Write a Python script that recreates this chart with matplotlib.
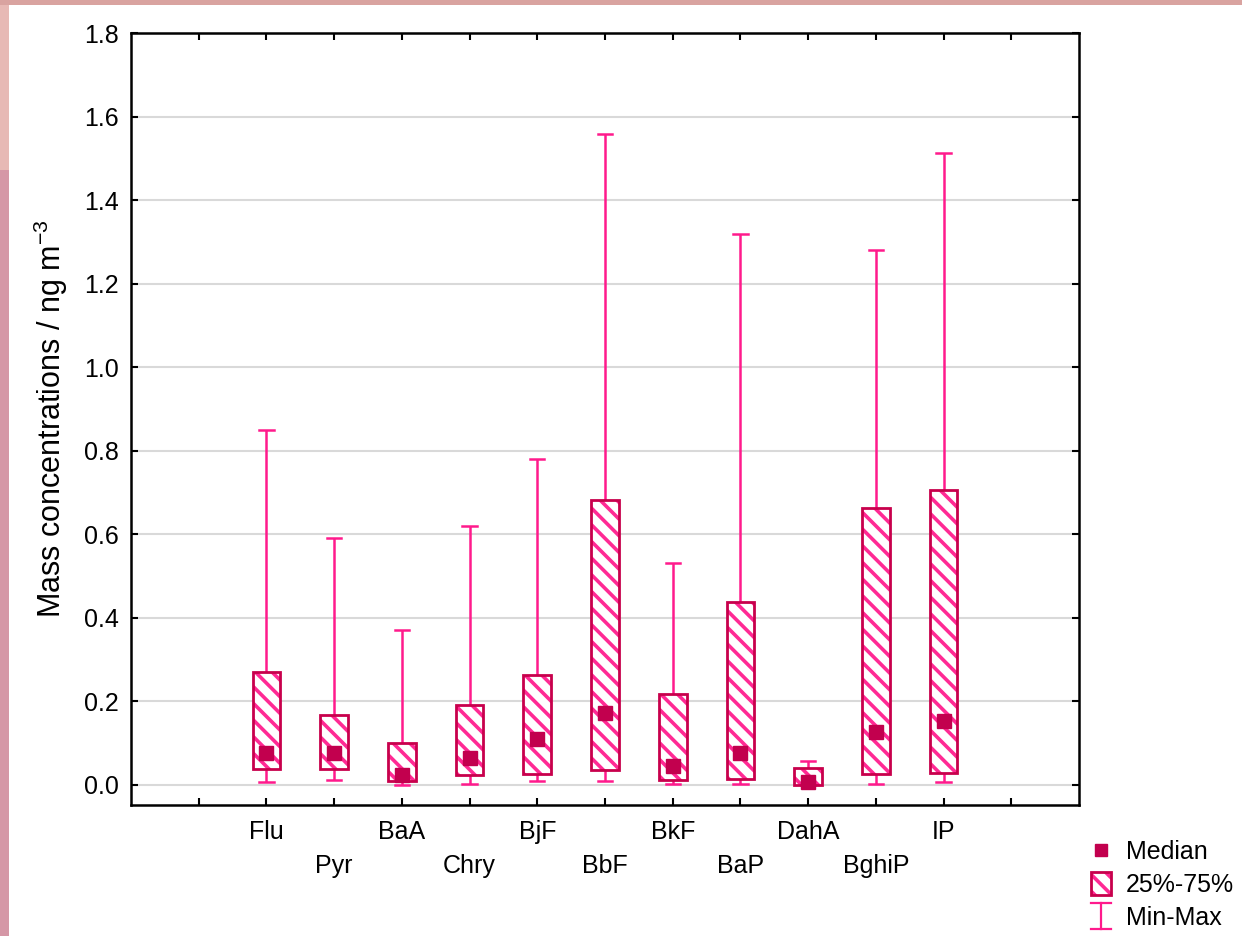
import matplotlib
matplotlib.use("Agg")
import matplotlib.pyplot as plt
from matplotlib.patches import Rectangle, Patch
from matplotlib.lines import Line2D
from matplotlib.legend_handler import HandlerBase

# ---------------- data ----------------
compounds = ["Flu", "Pyr", "BaA", "Chry", "BjF", "BbF", "BkF", "BaP", "DahA", "BghiP", "IP"]
mins    = [0.007, 0.012, 0.000, 0.003, 0.010, 0.010, 0.002, 0.002, 0.000, 0.002, 0.008]
q1      = [0.038, 0.038, 0.010, 0.024, 0.026, 0.036, 0.012, 0.014, 0.000, 0.026, 0.028]
medians = [0.077, 0.077, 0.024, 0.065, 0.110, 0.173, 0.046, 0.077, 0.007, 0.127, 0.153]
q3      = [0.271, 0.168, 0.100, 0.192, 0.263, 0.683, 0.218, 0.439, 0.041, 0.662, 0.707]
maxs    = [0.849, 0.590, 0.372, 0.620, 0.780, 1.558, 0.532, 1.320, 0.058, 1.280, 1.512]
yticks = [0.0, 0.2, 0.4, 0.6, 0.8, 1.0, 1.2, 1.4, 1.6, 1.8]

# ---------------- style ----------------
plt.rcParams['font.family'] = ['Liberation Sans', 'DejaVu Sans']
plt.rcParams['hatch.linewidth'] = 2.6
FS = 18
BOX_EDGE = "#C8004C"
HATCH = "#FF2A94"
WHISK = "#FF1A8C"
MED = "#C2004E"

fig = plt.figure(figsize=(12.42, 9.36), dpi=100)
fig.patch.set_facecolor("white")
# decorative pinkish border (left and top)
fig.patches.append(Rectangle((0, 0), 9/1242, 1, transform=fig.transFigure,
                             facecolor="#D597A6", edgecolor="none", zorder=0))
fig.patches.append(Rectangle((0, 1-170/936), 9/1242, 170/936, transform=fig.transFigure,
                             facecolor="#E7B9B5", edgecolor="none", zorder=0))
fig.patches.append(Rectangle((0, 1-5/936), 1, 5/936, transform=fig.transFigure,
                             facecolor="#D9A3A0", edgecolor="none", zorder=0))

ax = fig.add_axes([131/1242, 1-805/936, (1079-131)/1242, (805-33)/936])
ax.set_xlim(0, 14)
ax.set_ylim(-0.048, 1.8)

positions = list(range(2, 2 + len(compounds)))
box_w = 0.41
cap_w = 0.21

for i, x in enumerate(positions):
    ax.plot([x, x], [mins[i], maxs[i]], color=WHISK, lw=1.8, zorder=2, solid_capstyle='butt')
    ax.plot([x - cap_w/2, x + cap_w/2], [maxs[i], maxs[i]], color=WHISK, lw=1.8, zorder=2)
    ax.plot([x - cap_w/2, x + cap_w/2], [mins[i], mins[i]], color=WHISK, lw=1.8, zorder=2)
    ax.add_patch(Rectangle((x - box_w/2, q1[i]), box_w, q3[i] - q1[i],
                           facecolor="white", edgecolor="none", zorder=3))
    ax.add_patch(Rectangle((x - box_w/2, q1[i]), box_w, q3[i] - q1[i],
                           facecolor="none", edgecolor=HATCH, hatch="\\\\", lw=0, zorder=4))
    ax.add_patch(Rectangle((x - box_w/2, q1[i]), box_w, q3[i] - q1[i],
                           facecolor="none", edgecolor=BOX_EDGE, lw=2.0, zorder=5))
    ax.plot([x], [medians[i]], marker='s', ms=9.5, color=MED, mec=MED, zorder=6, ls='none')

# grid
ax.set_yticks(yticks)
ax.set_yticklabels([f"{v:.1f}" for v in yticks])
ax.yaxis.grid(True, color="#D9D9D9", lw=1.5, zorder=0)
ax.set_axisbelow(True)

# x ticks: upper row as major, lower row as minor
upper_pos = [1] + positions[0::2] + [13]
upper_lab = [""] + compounds[0::2] + [""]
lower_pos = positions[1::2]
lower_lab = compounds[1::2]
ax.set_xticks(upper_pos)
ax.set_xticklabels(upper_lab)
ax.set_xticks(lower_pos, minor=True)
ax.set_xticklabels(lower_lab, minor=True)
ax.yaxis.set_minor_locator(matplotlib.ticker.NullLocator())

ax.tick_params(axis='both', which='both', direction='in', length=5, width=1.5, colors='black',
               labelsize=FS, top=True, right=True)
ax.tick_params(axis='x', which='major', pad=11)
ax.tick_params(axis='x', which='minor', pad=35)
ax.tick_params(axis='y', pad=9)
for sp in ax.spines.values():
    sp.set_linewidth(1.8)

ax.set_ylabel("Mass concentrations / ng m$^{\\mathregular{-3}}$", fontsize=22, labelpad=10)

# legend
class HandlerMinMax(HandlerBase):
    def create_artists(self, legend, orig_handle, xdescent, ydescent, width, height, fontsize, trans):
        cx = width / 2 - xdescent
        y0 = -ydescent - 3
        y1 = height - ydescent + 3
        cw = width * 0.5
        l1 = Line2D([cx, cx], [y0, y1], color=WHISK, lw=1.6, transform=trans)
        l2 = Line2D([cx - cw, cx + cw], [y1, y1], color=WHISK, lw=1.6, transform=trans)
        l3 = Line2D([cx - cw, cx + cw], [y0, y0], color=WHISK, lw=1.6, transform=trans)
        return [l1, l2, l3]

class HandlerBox(HandlerBase):
    def create_artists(self, legend, orig_handle, xdescent, ydescent, width, height, fontsize, trans):
        x0 = -xdescent
        y0 = -ydescent - 2
        h = height + 4
        r1 = Rectangle((x0, y0), width, h, facecolor="white", edgecolor=HATCH, hatch="\\\\", lw=0, transform=trans)
        r2 = Rectangle((x0, y0), width, h, facecolor="none", edgecolor=BOX_EDGE, lw=2.0, transform=trans)
        return [r1, r2]

h_med = Line2D([], [], marker='s', ms=8.5, color=MED, ls='none')
h_box = Patch()
h_mm = Line2D([], [])
fig.legend([h_med, h_box, h_mm], ["Median", "25%-75%", "Min-Max"],
           handler_map={h_box: HandlerBox(), h_mm: HandlerMinMax()},
           loc='upper left', bbox_to_anchor=(1091/1242, 1-840/936), frameon=False,
           fontsize=FS, handlelength=0.8, handletextpad=0.6, labelspacing=0.36,
           borderaxespad=0, borderpad=0)

fig.savefig("out.png", dpi=100, facecolor=fig.get_facecolor())
